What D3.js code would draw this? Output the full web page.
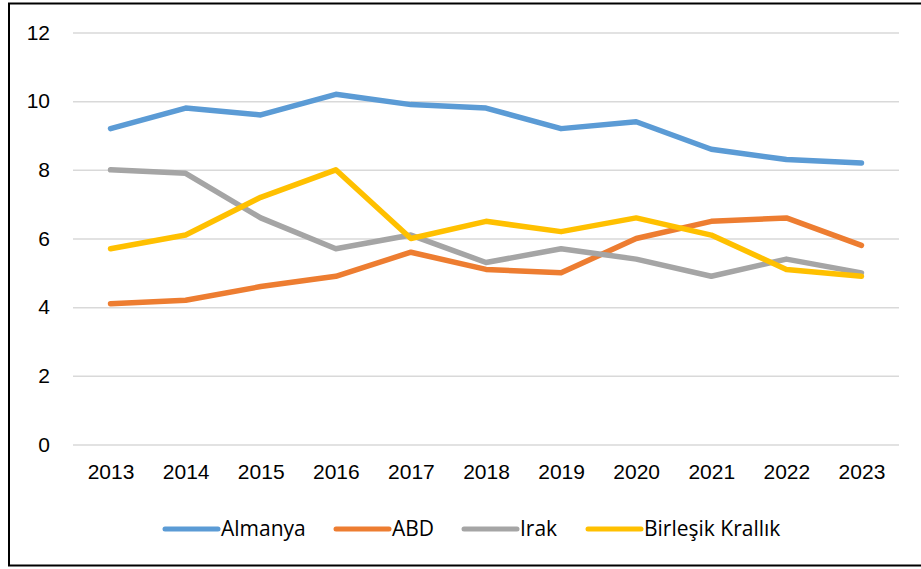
<!DOCTYPE html>
<html>
<head>
<meta charset="utf-8">
<script src="https://cdn.jsdelivr.net/npm/d3@7"></script>
<style>
  body { margin: 0; background: #fff; }
  svg { display: block; font-family: 'Open Sans', sans-serif; }
  .tick text { font-size: 21px; fill: #000; }
  .legend text { font-size: 21px; fill: #000; }
</style>
</head>
<body>
<div id="container"></div>
<script>
const W = 921;
const H = 569;
const margin = { top: 32.5, left: 73, right: 22, bottom: 124.5 };
const width = W - margin.left - margin.right;
const height = H - margin.top - margin.bottom;

const years = ['2013', '2014', '2015', '2016', '2017', '2018', '2019', '2020', '2021', '2022', '2023'];
const seriesNames = ['Almanya', 'ABD', 'Irak', 'Birleşik Krallık'];
const almanya = [9.2, 9.8, 9.6, 10.2, 9.9, 9.8, 9.2, 9.4, 8.6, 8.3, 8.2];
const abd = [4.1, 4.2, 4.6, 4.9, 5.6, 5.1, 5.0, 6.0, 6.5, 6.6, 5.8];
const irak = [8.0, 7.9, 6.6, 5.7, 6.1, 5.3, 5.7, 5.4, 4.9, 5.4, 5.0];
const birlesik = [5.7, 6.1, 7.2, 8.0, 6.0, 6.5, 6.2, 6.6, 6.1, 5.1, 4.9];
const yTicks = [0, 2, 4, 6, 8, 10, 12];

const allSeries = [almanya, abd, irak, birlesik];
const colors = ['#5B9BD5', '#ED7D31', '#A5A5A5', '#FFC000'];

const svg = d3
  .select('#container')
  .append('svg')
  .attr('width', W)
  .attr('height', H);

// outer frame
svg
  .append('rect')
  .attr('x', 9)
  .attr('y', 3.5)
  .attr('width', 930)
  .attr('height', 562)
  .attr('fill', 'none')
  .attr('stroke', '#000')
  .attr('stroke-width', 2);

const g = svg
  .append('g')
  .attr('transform', 'translate(' + margin.left + ',' + margin.top + ')');

const xScale = d3.scalePoint().domain(years).range([0, width]).padding(0.5);
const yScale = d3.scaleLinear().domain([0, 12]).range([height, 0]);

// y axis with gridlines
const yAxis = d3
  .axisLeft(yScale)
  .tickValues(yTicks)
  .tickSizeInner(-width)
  .tickSizeOuter(0)
  .tickPadding(23);
const yAxisSvg = g.append('g').attr('class', 'axis y-axis').call(yAxis);
yAxisSvg.select('.domain').remove();
yAxisSvg.selectAll('line').attr('stroke', '#D9D9D9').attr('stroke-width', 1.5);

// x axis
const xAxis = d3.axisBottom(xScale).tickSize(0).tickPadding(20);
const xAxisSvg = g
  .append('g')
  .attr('class', 'axis x-axis')
  .attr('transform', 'translate(0,' + height + ')')
  .call(xAxis);
xAxisSvg.select('.domain').remove();

// lines
const line = d3
  .line()
  .x((d, i) => xScale(years[i]))
  .y(d => yScale(d));

allSeries.forEach((s, i) => {
  g.append('path')
    .datum(s)
    .attr('fill', 'none')
    .attr('stroke', colors[i])
    .attr('stroke-width', 5.5)
    .attr('stroke-linejoin', 'round')
    .attr('stroke-linecap', 'round')
    .attr('d', line);
});

// legend
const legendX = [164, 335, 463, 587];
const legend = svg.append('g').attr('class', 'legend');
seriesNames.forEach((name, i) => {
  const item = legend.append('g').attr('transform', 'translate(' + legendX[i] + ',529)');
  item
    .append('line')
    .attr('x1', 1)
    .attr('x2', 54)
    .attr('stroke', colors[i])
    .attr('stroke-width', 5)
    .attr('stroke-linecap', 'round');
  item
    .append('text')
    .attr('x', 57)
    .attr('dy', '0.35em')
    .text(name);
});
</script>
</body>
</html>
